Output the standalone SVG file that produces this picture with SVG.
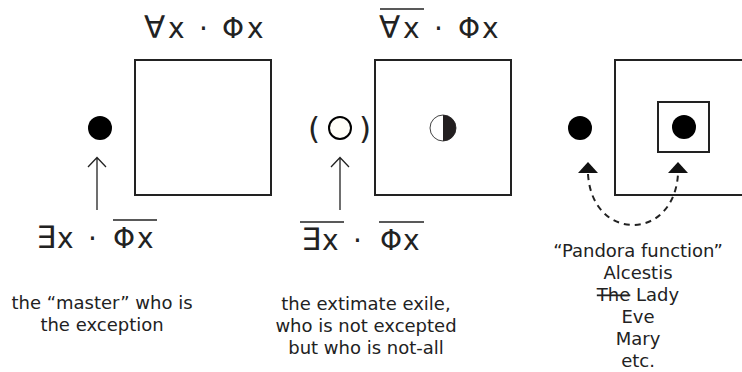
<svg xmlns="http://www.w3.org/2000/svg" width="742" height="372" viewBox="0 0 742 372">
<style>
.box{fill:none;stroke:#222;stroke-width:2}
.f{font-family:"DejaVu Sans",Verdana,sans-serif;font-size:28px;fill:#222}
.q{font-size:31px}
.t{font-family:"DejaVu Sans",Verdana,sans-serif;font-size:18px;fill:#222;text-anchor:middle}
.ov{stroke:#222;stroke-width:1.5}
.arr{fill:none;stroke:#222;stroke-width:1.3}
</style>
<rect width="742" height="372" fill="#fff"/>
<g id="formula-top-1">
<text class="f" y="38"><tspan class="q" x="144">∀</tspan><tspan x="168">x</tspan><tspan x="199">·</tspan><tspan x="222">Φ</tspan><tspan x="247">x</tspan></text>
</g>
<g id="formula-top-2">
<line class="ov" x1="380" y1="9" x2="424" y2="9"/>
<text class="f" y="38"><tspan class="q" x="379">∀</tspan><tspan x="403">x</tspan><tspan x="434">·</tspan><tspan x="458">Φ</tspan><tspan x="482">x</tspan></text>
</g>
<g id="box-1"><rect class="box" x="135" y="60" width="136" height="135"/></g>
<g id="box-2"><rect class="box" x="375" y="60" width="136" height="135"/></g>
<g id="box-3"><rect class="box" x="615" y="60" width="140" height="135"/></g>
<g id="inner-box"><rect class="box" x="658" y="102" width="51" height="50"/><circle cx="684" cy="127" r="12" fill="#000"/></g>
<g id="dot-master"><circle cx="100" cy="128" r="12" fill="#000"/></g>
<g id="dot-exile">
<text class="f" x="308" y="139" style="font-size:31px">(</text>
<circle cx="340" cy="128" r="11" fill="#fffef8" stroke="#000" stroke-width="2"/>
<text class="f" x="359" y="139" style="font-size:31px">)</text>
</g>
<g id="half-circle">
<circle cx="443" cy="128" r="13" fill="#fff" stroke="#444" stroke-width="1"/>
<path d="M443,115 A13,13 0 0 1 443,141 Z" fill="#231f20"/>
</g>
<g id="dot-pandora"><circle cx="580" cy="128" r="12" fill="#000"/></g>
<g id="connectors">
<path class="arr" d="M97,210 V158 M88,167 L97,157.5 L106,167"/>
<path class="arr" d="M340,210 V158 M331,167 L340,157.5 L349,167"/>
<path d="M588,174 C592,242 674,242 678,174" fill="none" stroke="#222" stroke-width="2" stroke-dasharray="6,5"/>
<polygon points="588,162 578,173 598,173" fill="#111"/>
<polygon points="678,162 668,173 688,173" fill="#111"/>
</g>
<g id="formula-bottom-1">
<line class="ov" x1="113" y1="220" x2="157" y2="220"/>
<text class="f" y="248"><tspan class="q" x="36">∃</tspan><tspan x="57">x</tspan><tspan x="88">·</tspan><tspan x="113">Φ</tspan><tspan x="137">x</tspan></text>
</g>
<g id="formula-bottom-2">
<line class="ov" x1="300" y1="222" x2="344" y2="222"/>
<line class="ov" x1="379" y1="222" x2="424" y2="222"/>
<text class="f" y="250"><tspan class="q" x="301">∃</tspan><tspan x="322">x</tspan><tspan x="353">·</tspan><tspan x="380">Φ</tspan><tspan x="403">x</tspan></text>
</g>
<g id="label-master">
<text class="t" x="102" y="309">the “master” who is</text>
<text class="t" x="102" y="331">the exception</text>
</g>
<g id="label-exile">
<text class="t" x="366" y="310">the extimate exile,</text>
<text class="t" x="366" y="332">who is not excepted</text>
<text class="t" x="366" y="354">but who is not-all</text>
</g>
<g id="label-pandora">
<text class="t" x="638" y="257">“Pandora function”</text>
<text class="t" x="638" y="279">Alcestis</text>
<text class="t" x="638" y="301"><tspan text-decoration="line-through">The</tspan> Lady</text>
<text class="t" x="638" y="323">Eve</text>
<text class="t" x="638" y="345">Mary</text>
<text class="t" x="638" y="367">etc.</text>
</g>
</svg>
